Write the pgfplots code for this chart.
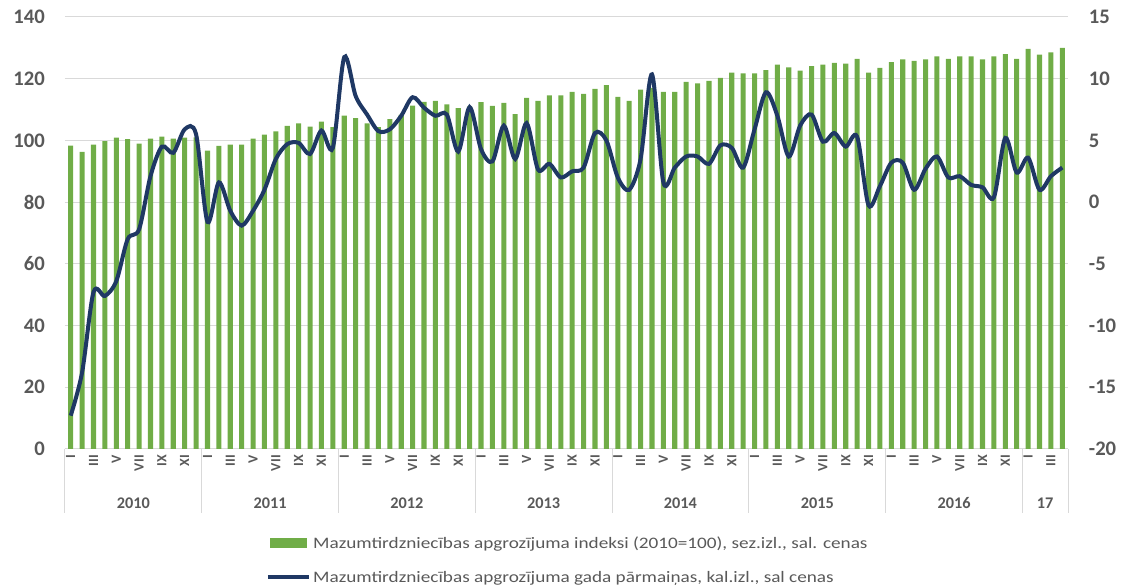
\documentclass[border=0pt]{standalone}
\usepackage{pgfplots}
\pgfplotsset{compat=1.18}
\usepackage{pgfplotstable}
\usepackage{fontspec}
\setmainfont{Carlito}
\definecolor{barg}{HTML}{70AD47}
\definecolor{linec}{HTML}{1F3864}
\definecolor{gridc}{HTML}{D9D9D9}
\definecolor{txt}{HTML}{595959}
\pgfplotstableread{
x y
0 98.3
1 96.3
2 98.6
3 99.8
4 100.9
5 100.4
6 99.0
7 100.6
8 101.2
9 100.6
10 100.9
11 101.0
12 96.7
13 98.2
14 98.6
15 98.6
16 100.6
17 101.9
18 102.9
19 104.7
20 105.5
21 104.5
22 106.1
23 104.3
24 108.0
25 107.2
26 105.5
27 104.3
28 106.9
29 108.3
30 111.3
31 112.5
32 112.8
33 111.7
34 110.5
35 111.0
36 112.4
37 111.2
38 112.2
39 108.5
40 113.8
41 112.8
42 114.6
43 114.6
44 115.7
45 115.1
46 116.7
47 117.9
48 114.1
49 112.8
50 116.5
51 117.0
52 115.7
53 115.7
54 119.0
55 118.5
56 119.3
57 120.3
58 122.0
59 121.7
60 121.7
61 122.8
62 124.6
63 123.7
64 122.6
65 124.1
66 124.6
67 125.1
68 124.9
69 126.4
70 122.0
71 123.5
72 125.4
73 126.3
74 125.8
75 126.3
76 127.2
77 126.4
78 127.2
79 127.2
80 126.3
81 127.2
82 128.0
83 126.4
84 129.7
85 127.8
86 128.5
87 130.0
}\bars
\pgfplotstableread{
x y
0 -17.3
1 -13.8
2 -7.3
3 -7.6
4 -6.4
5 -3.0
6 -2.2
7 2.1
8 4.5
9 4.0
10 5.9
11 5.5
12 -1.6
13 1.6
14 -0.7
15 -1.9
16 -0.7
17 1.0
18 3.5
19 4.7
20 4.8
21 3.9
22 5.8
23 4.4
24 11.75
25 8.6
26 7.1
27 5.75
28 5.9
29 7.0
30 8.5
31 7.65
32 7.0
33 7.1
34 4.1
35 7.7
36 4.3
37 3.3
38 6.2
39 3.5
40 6.4
41 2.65
42 3.1
43 2.0
44 2.5
45 2.8
46 5.6
47 5.0
48 2.0
49 1.0
50 3.5
51 10.35
52 1.6
53 2.8
54 3.7
55 3.7
56 3.1
57 4.6
58 4.4
59 2.8
60 5.9
61 8.9
62 7.0
63 3.7
64 6.2
65 7.1
66 4.9
67 5.6
68 4.5
69 5.3
70 -0.25
71 1.3
72 3.2
73 3.2
74 1.0
75 2.7
76 3.7
77 2.0
78 2.1
79 1.4
80 1.2
81 0.4
82 5.2
83 2.4
84 3.6
85 1.0
86 2.1
87 2.8
}\linedata
\begin{document}
\begin{tikzpicture}
\useasboundingbox (0,0) rectangle (841.5pt,439.5pt);
\begin{axis}[
  at={(48.75pt,102.75pt)}, anchor=south west,
  scale only axis, width=752.25pt, height=324pt,
  xmin=-0.5, xmax=87.5, ymin=0, ymax=140,
  ytick={0,20,...,140},
  axis y line*=left, axis x line*=bottom,
  y axis line style={draw=none},
  x axis line style={gridc, line width=0.75pt, -},
  ymajorgrids, grid style={gridc, line width=0.75pt},
  major tick length=0pt,
  /pgf/number format/assume math mode=true,
  yticklabel style={font=\fontsize{15.5}{18}\selectfont\bfseries, text=txt, anchor=east, inner sep=0pt, xshift=-15pt},
  xtick={0,2,...,86},
  xticklabels={I,III,V,VII,IX,XI,I,III,V,VII,IX,XI,I,III,V,VII,IX,XI,I,III,V,VII,IX,XI,I,III,V,VII,IX,XI,I,III,V,VII,IX,XI,I,III,V,VII,IX,XI,I,III},
  xticklabel style={font=\fontsize{10.5}{12}\selectfont\bfseries, text=txt, inner sep=0pt, yshift=-4.5pt, rotate=90, anchor=east},
  clip=false,
  legend style={at={(axis description cs:0.2000,-0.202)}, anchor=north west, draw=none, fill=none, inner sep=0pt, row sep=15.5pt, font=\fontsize{12}{14}\selectfont, text=txt, nodes={inner xsep=2pt, inner ysep=0pt}},
  legend cell align=left,
]
\addplot[ybar, bar width=3.8pt, fill=barg, draw=none,
  legend image code/.code={\fill[barg] (0pt,-3.75pt) rectangle (27.5pt,3.75pt);}] table[x=x,y=y] {\bars};
\addlegendentry{\scalebox{1.2}[1]{Mazumtirdzniecības apgrozījuma indeksi (2010=100), sez.izl., sal. cenas}}
\addlegendimage{legend image code/.code={\draw[linec, line width=3pt] (-1.5pt,0pt) -- (29pt,0pt);}}
\addlegendentry{\scalebox{1.2}[1]{Mazumtirdzniecības apgrozījuma gada pārmaiņas, kal.izl., sal cenas}}
\pgfplotsinvokeforeach{-0.5,11.5,23.5,35.5,47.5,59.5,71.5,83.5,87.5}{
  \draw[gridc, line width=0.75pt] (axis cs:#1,0) -- ++(0pt,-48pt);
}
\node[font=\fontsize{12.2}{14}\selectfont\bfseries, text=txt] at ([yshift=-40.5pt]axis cs:5.5,0) {2010};
\node[font=\fontsize{12.2}{14}\selectfont\bfseries, text=txt] at ([yshift=-40.5pt]axis cs:17.5,0) {2011};
\node[font=\fontsize{12.2}{14}\selectfont\bfseries, text=txt] at ([yshift=-40.5pt]axis cs:29.5,0) {2012};
\node[font=\fontsize{12.2}{14}\selectfont\bfseries, text=txt] at ([yshift=-40.5pt]axis cs:41.5,0) {2013};
\node[font=\fontsize{12.2}{14}\selectfont\bfseries, text=txt] at ([yshift=-40.5pt]axis cs:53.5,0) {2014};
\node[font=\fontsize{12.2}{14}\selectfont\bfseries, text=txt] at ([yshift=-40.5pt]axis cs:65.5,0) {2015};
\node[font=\fontsize{12.2}{14}\selectfont\bfseries, text=txt] at ([yshift=-40.5pt]axis cs:77.5,0) {2016};
\node[font=\fontsize{12.2}{14}\selectfont\bfseries, text=txt] at ([yshift=-40.5pt]axis cs:85.5,0) {17};
\end{axis}
\begin{axis}[
  at={(48.75pt,102.75pt)}, anchor=south west,
  scale only axis, width=752.25pt, height=324pt,
  xmin=-0.5, xmax=87.5, ymin=-20, ymax=15,
  ytick={-20,-15,...,15},
  axis y line*=right, axis x line=none,
  y axis line style={draw=none},
  major tick length=0pt,
  /pgf/number format/assume math mode=true,
  yticklabel style={font=\fontsize{15.5}{18}\selectfont\bfseries, text=txt, anchor=west, inner sep=0pt, xshift=15.5pt},
]
\addplot[linec, line width=3pt, smooth, tension=0.5] table[x=x,y=y] {\linedata};
\end{axis}
\end{tikzpicture}
\end{document}
